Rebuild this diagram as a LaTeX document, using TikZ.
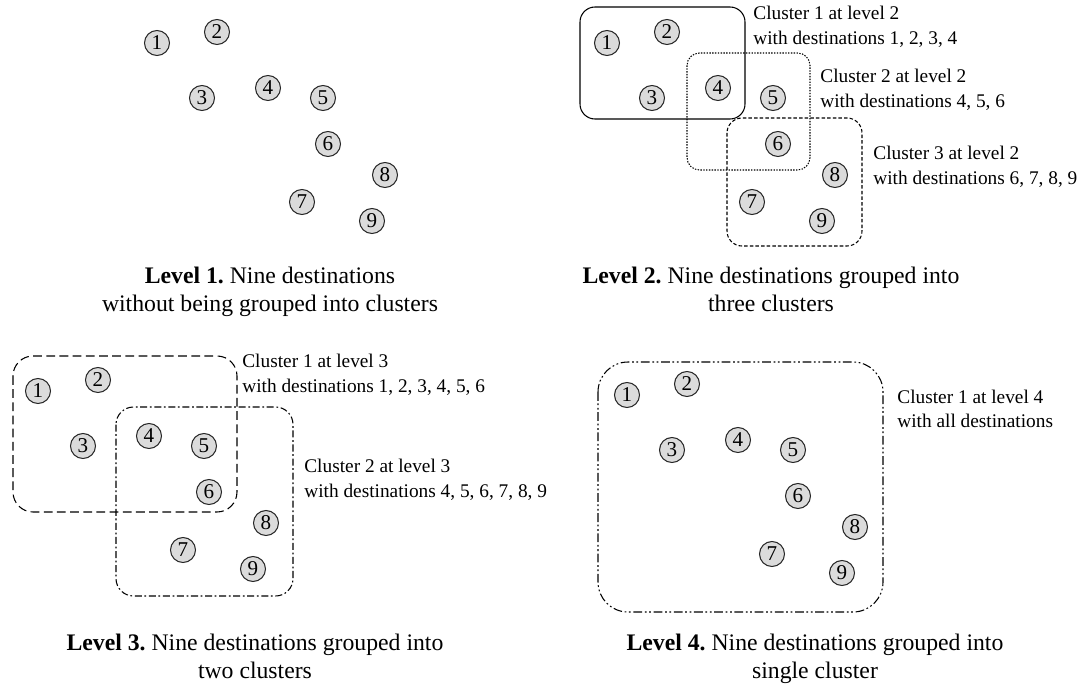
\documentclass[tikz,border=0pt]{standalone}
\usepackage{fontspec}
\setmainfont{Liberation Serif}
\frenchspacing
\tikzset{
  dest/.style={circle, draw=black!85, fill=black!14, line width=0.6pt, minimum size=0.5cm, inner sep=0pt, font=\fontsize{12}{12}\selectfont},
  clusterbox/.style={line width=0.6pt, rounded corners=0.3cm},
  clusterlabel/.style={anchor=west, align=left, inner sep=0pt, font=\fontsize{11}{14}\selectfont},
  levelcaption/.style={anchor=north, align=center, inner sep=0pt, font=\fontsize{13.5}{16}\selectfont},
}
\begin{document}
\begin{tikzpicture}[x=0.02cm, y=-0.02cm]
                    \useasboundingbox (0,0) rectangle (1081,689);
                    % Level 1
                    \begin{scope}
                    \node[dest] (a1) at (157,43) {1};
                    \node[dest] (a2) at (217,32) {2};
                    \node[dest] (a3) at (202,98) {3};
                    \node[dest] (a4) at (268,88) {4};
                    \node[dest] (a5) at (323,98) {5};
                    \node[dest] (a6) at (328,144) {6};
                    \node[dest] (a7) at (302,202) {7};
                    \node[dest] (a8) at (385,175) {8};
                    \node[dest] (a9) at (372,221) {9};
                    \end{scope}
                    \node[levelcaption] (cap1) at (270,267) {\textbf{Level 1.} Nine destinations\\without being grouped into clusters};
                    % Level 2
                    \begin{scope}[shift={(450,0)}]
                    \node[dest] (b1) at (157,43) {1};
                    \node[dest] (b2) at (217,32) {2};
                    \node[dest] (b3) at (202,98) {3};
                    \node[dest] (b4) at (268,88) {4};
                    \node[dest] (b5) at (323,98) {5};
                    \node[dest] (b6) at (328,144) {6};
                    \node[dest] (b7) at (302,202) {7};
                    \node[dest] (b8) at (385,175) {8};
                    \node[dest] (b9) at (372,221) {9};
                    \end{scope}
                    \draw[clusterbox] (580,7) rectangle (745,119);
                    \draw[clusterbox, rounded corners=0.25cm, dash pattern=on 0.8pt off 0.8pt] (687,53) rectangle (810,170);
                    \draw[clusterbox, dash pattern=on 2pt off 1.2pt] (727,118) rectangle (862,246);
                    \node[clusterlabel] (l21) at (753,27) {Cluster 1 at level 2\\with destinations 1, 2, 3, 4};
                    \node[clusterlabel] (l22) at (820,90) {Cluster 2 at level 2\\with destinations 4, 5, 6};
                    \node[clusterlabel] (l23) at (873,167) {Cluster 3 at level 2\\with destinations 6, 7, 8, 9};
                    \node[levelcaption] (cap2) at (771,267) {\textbf{Level 2.} Nine destinations grouped into\\three clusters};
                    % Level 3
                    \begin{scope}[shift={(-119,348)}]
                    \node[dest] (c1) at (157,43) {1};
                    \node[dest] (c2) at (217,32) {2};
                    \node[dest] (c3) at (202,98) {3};
                    \node[dest] (c4) at (268,88) {4};
                    \node[dest] (c5) at (323,98) {5};
                    \node[dest] (c6) at (328,144) {6};
                    \node[dest] (c7) at (302,202) {7};
                    \node[dest] (c8) at (385,175) {8};
                    \node[dest] (c9) at (372,221) {9};
                    \end{scope}
                    \draw[clusterbox, rounded corners=0.4cm, dash pattern=on 5pt off 2.5pt] (13,356) rectangle (237,512);
                    \draw[clusterbox, rounded corners=0.35cm, dash pattern=on 4pt off 1.5pt on 1pt off 1.5pt] (116,407) rectangle (293,596);
                    \node[clusterlabel] (l31) at (242,375) {Cluster 1 at level 3\\with destinations 1, 2, 3, 4, 5, 6};
                    \node[clusterlabel] (l32) at (304,480) {Cluster 2 at level 3\\with destinations 4, 5, 6, 7, 8, 9};
                    \node[levelcaption] (cap3) at (255,634) {\textbf{Level 3.} Nine destinations grouped into\\two clusters};
                    % Level 4
                    \begin{scope}[shift={(470,352)}]
                    \node[dest] (d1) at (157,43) {1};
                    \node[dest] (d2) at (217,32) {2};
                    \node[dest] (d3) at (202,98) {3};
                    \node[dest] (d4) at (268,88) {4};
                    \node[dest] (d5) at (323,98) {5};
                    \node[dest] (d6) at (328,144) {6};
                    \node[dest] (d7) at (302,202) {7};
                    \node[dest] (d8) at (385,175) {8};
                    \node[dest] (d9) at (372,221) {9};
                    \end{scope}
                    \draw[clusterbox, rounded corners=0.6cm, dash pattern=on 5pt off 1.5pt on 1pt off 1.5pt on 1pt off 1.5pt] (598,362) rectangle (883,612);
                    \node[clusterlabel] (l41) at (897,409) {Cluster 1 at level 4\\with all destinations};
                    \node[levelcaption] (cap4) at (815,634) {\textbf{Level 4.} Nine destinations grouped into\\single cluster};
                \end{tikzpicture}
\end{document}
